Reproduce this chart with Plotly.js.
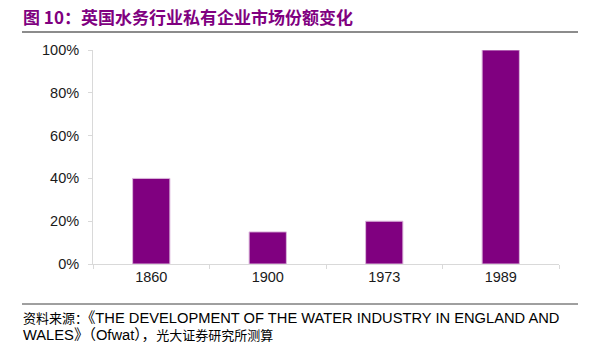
<!DOCTYPE html>
<html><head><meta charset="utf-8">
<script src="https://cdn.plot.ly/plotly-3.0.1.min.js"></script>
<style>html,body{margin:0;padding:0;background:#fff}#chart{width:597px;height:342px}</style>
</head><body><div id="chart"></div>
<script>
const categories = ['1860', '1900', '1973', '1989'];
const shares = [0.40, 0.15, 0.20, 1.00];
const titleText = '图 10：英国水务行业私有企业市场份额变化';
const sourceLine1 = '<span style="font-size:13px">资料来源：</span>《THE DEVELOPMENT OF THE WATER INDUSTRY IN ENGLAND AND';
const sourceLine2 = 'WALES》（Ofwat），<span style="font-size:13px">光大证券研究所测算</span>';

const L = 93, T = 50, W = 466, H = 214;
const px = x => (x - L) / W;
const py = y => (T + H - y) / H;

const trace = {
  type: 'bar', x: categories, y: shares,
  marker: {color: '#800080', line: {color: '#dcb8dc', width: 1}},
  hoverinfo: 'skip'
};
const font = {family: 'Liberation Sans, Arial, Noto Sans CJK SC, sans-serif', size: 14, color: '#1a1a1a'};
const layout = {
  width: 597, height: 342,
  margin: {l: L, r: 597 - L - W, t: T, b: 342 - T - H, pad: 0},
  paper_bgcolor: '#fff', plot_bgcolor: '#fff',
  font: font, showlegend: false, bargap: 0.68,
  xaxis: {type: 'category', showline: true, linecolor: '#d9d9d9', linewidth: 1,
    ticks: 'outside', tickson: 'boundaries', ticklen: 4, tickcolor: '#d9d9d9',
    showgrid: false, zeroline: false, tickfont: {size: 14.5, color: '#1a1a1a'}},
  yaxis: {range: [0, 1], dtick: 0.2, tickformat: '.0%', showline: true, linecolor: '#d9d9d9',
    ticks: 'outside', ticklen: 4, tickcolor: '#d9d9d9', showgrid: false, zeroline: false,
    ticklabelstandoff: 6, tickfont: {size: 14.5, color: '#1a1a1a'}},
  shapes: [
    {type: 'line', xref: 'paper', yref: 'paper', x0: px(22), x1: px(578), y0: py(32), y1: py(32), line: {color: '#8c8c8c', width: 2}},
    {type: 'line', xref: 'paper', yref: 'paper', x0: px(22), x1: px(578), y0: py(304), y1: py(304), line: {color: '#404040', width: 1}}
  ],
  annotations: [
    {xref: 'paper', yref: 'paper', x: px(21), y: py(17), xanchor: 'left', yanchor: 'middle', showarrow: false,
     text: '<b>' + titleText + '</b>', font: {family: 'Noto Sans CJK SC, sans-serif', size: 17, color: '#800080'}},
    {xref: 'paper', yref: 'paper', x: px(21), y: py(318), xanchor: 'left', yanchor: 'middle', showarrow: false,
     text: sourceLine1, font: {family: 'Liberation Sans, Arial, Noto Sans CJK SC, sans-serif', size: 14.7, color: '#000'}},
    {xref: 'paper', yref: 'paper', x: px(21), y: py(335), xanchor: 'left', yanchor: 'middle', showarrow: false,
     text: sourceLine2, font: {family: 'Liberation Sans, Arial, Noto Sans CJK SC, sans-serif', size: 14.7, color: '#000'}}
  ]
};
Plotly.newPlot('chart', [trace], layout, {staticPlot: true, displayModeBar: false});
</script></body></html>
